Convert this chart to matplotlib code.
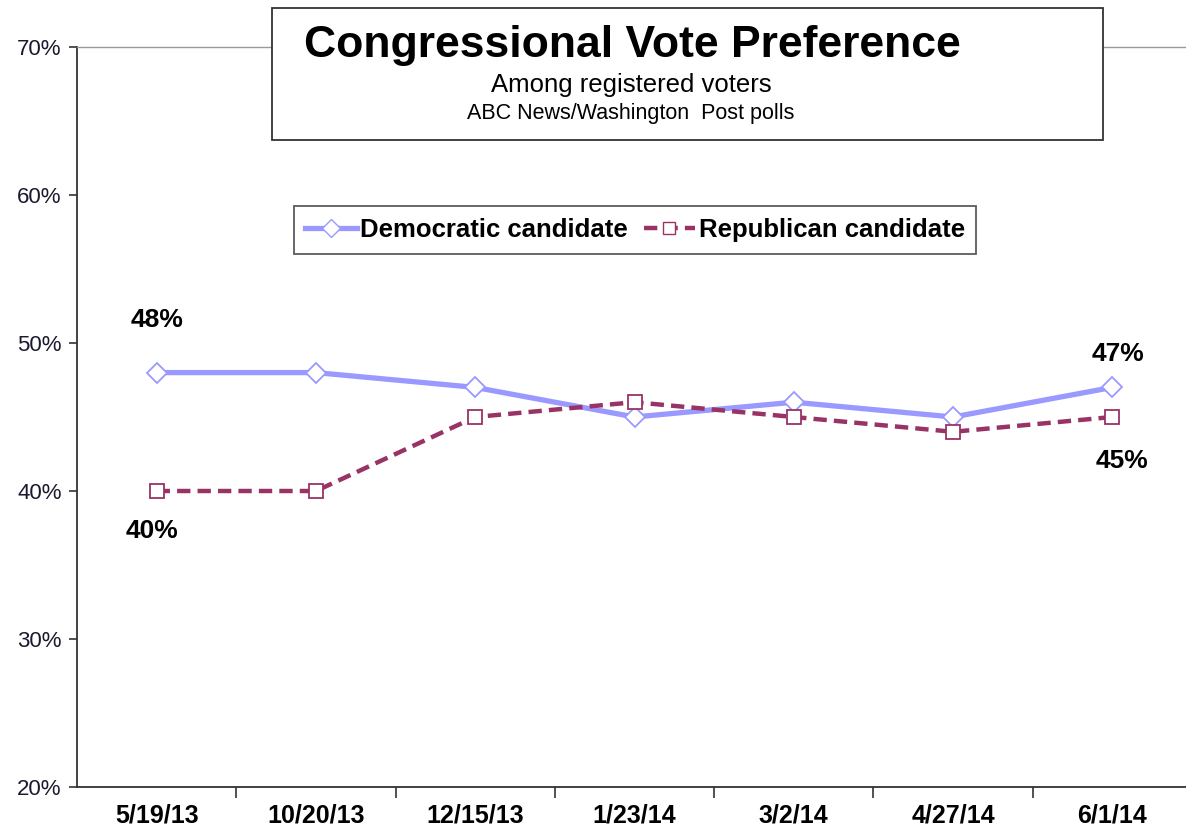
import matplotlib
matplotlib.use("Agg")
import matplotlib.pyplot as plt
from matplotlib.patches import Rectangle
from matplotlib.lines import Line2D

plt.rcParams['font.family'] = ['Liberation Sans', 'DejaVu Sans']

dates = ["5/19/13", "10/20/13", "12/15/13", "1/23/14", "3/2/14", "4/27/14", "6/1/14"]
dem = [48, 48, 47, 45, 46, 45, 47]
rep = [40, 40, 45, 46, 45, 44, 45]
yticks = [20, 30, 40, 50, 60, 70]

dem_color = "#9999FF"
rep_color = "#993366"

fig = plt.figure(figsize=(11.86, 8.30), dpi=100)
ax = fig.add_axes([77/1186, 1-787/830, 1115/1186, (787-47)/830])

x = list(range(len(dates)))
ax.plot(x, dem, color=dem_color, lw=3.8, marker='D', ms=10, mfc='white',
        mec=dem_color, mew=1.3, label="Democratic candidate", zorder=3)
ax.plot(x, rep, color=rep_color, lw=3.2, ls=(0, (3, 1.6)), marker='s', ms=10,
        mfc='white', mec=rep_color, mew=1.3, label="Republican candidate", zorder=3)

ax.set_xlim(-0.5, len(dates) - 0.5)
ax.set_ylim(20, 70)
ax.set_yticks(yticks)
ax.set_yticklabels([f"{v}%" for v in yticks], fontsize=16, color="#1a1a2e")
ax.set_xticks(x)
ax.set_xticklabels(dates, fontsize=18, fontweight='bold')
ax.set_xticks([i + 0.5 for i in range(len(dates) - 1)], minor=True)
ax.tick_params(axis='x', which='major', length=0, pad=12)
ax.tick_params(axis='x', which='minor', length=8, width=1.2, direction='out', color='#333333')
ax.tick_params(axis='y', length=6, width=1.2, direction='out', color='#333333', pad=5)

for s in ['left', 'bottom']:
    ax.spines[s].set_color('#333333')
    ax.spines[s].set_linewidth(1.3)
ax.spines['right'].set_visible(False)
ax.spines['top'].set_color('#999999')
ax.spines['top'].set_linewidth(1.0)

# data labels
lab = dict(textcoords='offset points', ha='center', va='center', fontsize=19, fontweight='bold')
ax.annotate(f"{dem[0]}%", (0, dem[0]), xytext=(0, 38), **lab)
ax.annotate(f"{rep[0]}%", (0, rep[0]), xytext=(-3, -29), **lab)
ax.annotate(f"{dem[-1]}%", (6, dem[-1]), xytext=(4, 24), **lab)
ax.annotate(f"{rep[-1]}%", (6, rep[-1]), xytext=(7, -32), **lab)

# title box
fig.patches.append(Rectangle((272/1186, 1-140/830), (1103-272)/1186, (140-8)/830,
                             transform=fig.transFigure, facecolor='white',
                             edgecolor='#333333', lw=1.3, zorder=5))
fig.text(632/1186, 1-45/830, "Congressional Vote Preference", ha='center', va='center',
         fontsize=32, fontweight='bold', zorder=6)
fig.text(631/1186, 1-85/830, "Among registered voters", ha='center', va='center',
         fontsize=18.5, zorder=6)
fig.text(631/1186, 1-113/830, "ABC News/Washington  Post polls", ha='center', va='center',
         fontsize=15.5, zorder=6)

# legend
handles = [Line2D([], [], color=dem_color, lw=3.8, marker='D', ms=9, mfc='white', mec=dem_color),
           Line2D([], [], color=rep_color, lw=3.2, ls=(0, (3, 1.6)), marker='s', ms=9,
                  mfc='white', mec=rep_color)]
leg = ax.legend(handles, ["Democratic candidate", "Republican candidate"], ncol=2,
                loc='center', bbox_to_anchor=((635-77)/1115, (787-230)/740),
                prop={'weight': 'bold', 'size': 18.5}, frameon=True, fancybox=False,
                edgecolor='#333333', handlelength=2.0, handletextpad=0.15,
                columnspacing=0.6, borderpad=0.45, borderaxespad=0)
leg.get_frame().set_linewidth(1.3)

fig.savefig("out.png", dpi=100)
